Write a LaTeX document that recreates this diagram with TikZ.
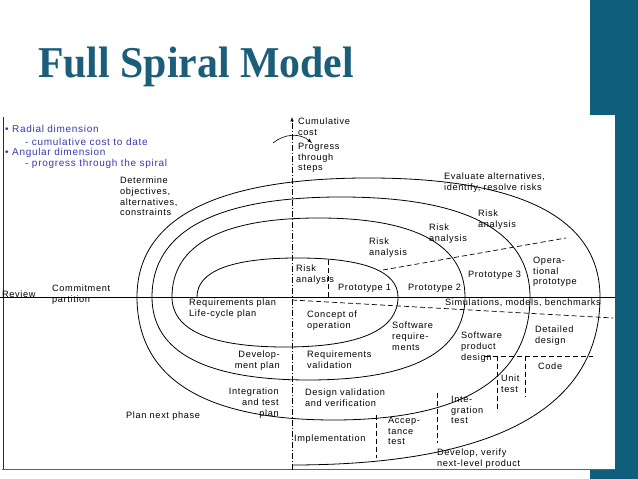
\documentclass[tikz,border=0pt]{standalone}
\usepackage{fontspec}
\setmainfont{Liberation Sans}
\newfontfamily\titlefont{Liberation Serif}
\newfontfamily\lblfont{Liberation Sans}[LetterSpace=7]
\definecolor{teal1}{HTML}{1A5E7A}
\definecolor{bar}{HTML}{0F5E7C}
\definecolor{bluet}{HTML}{3838B0}
\newcommand\spiralhalf[3]{%
  \draw[sp] (#1,182) .. controls (#1,{182+0.66*#3}) and ({(#1+#2)/2-0.66*(#2-#1)/2},{182+#3}) .. ({(#1+#2)/2},{182+#3})
    .. controls ({(#1+#2)/2+0.66*(#2-#1)/2},{182+#3}) and (#2,{182+0.66*#3}) .. (#2,182);}
\begin{document}
\begin{tikzpicture}[x=1pt,y=1pt,
  lbl/.style={font=\lblfont\fontsize{9.2}{10.6}\selectfont, inner sep=0pt, align=left, anchor=north west},
  lblr/.style={font=\lblfont\fontsize{9.2}{10.6}\selectfont, inner sep=0pt, align=right, anchor=north east},
  blue/.style={font=\lblfont\fontsize{10}{11}\selectfont, inner sep=0pt, anchor=west, text=bluet},
  sp/.style={line width=0.8pt},
  dsh/.style={line width=0.7pt, dash pattern=on 5pt off 3pt}]
\useasboundingbox (0,0) rectangle (638,479);
\fill[white] (0,0) rectangle (638,479);
\fill[bar] (590,0) rectangle (638,479);
\fill[white] (2,10) rectangle (615,364);
\draw[bluet!60!black, line width=0.8pt] (3,10) -- (3,362);
\draw[gray!70!blue, line width=0.6pt] (2,10) -- (615,10);
\node[inner sep=0pt, anchor=base west, text=teal1, font=\titlefont\bfseries\fontsize{44}{48}\selectfont, xscale=0.95] (title) at (38,401) {Full Spiral Model};
% axes
\coordinate (ax1) at (0,182); \coordinate (ax2) at (615,182);
\draw[line width=0.6pt] (ax1) -- (ax2);
\coordinate (vb) at (292,9); \coordinate (vt) at (292,362);
\draw[line width=0.5pt, dash pattern=on 6pt off 2pt on 1pt off 2pt, -latex] (vb) -- (vt);
\coordinate (ca) at (273,336); \coordinate (cb) at (312,336);
\draw[line width=0.6pt, -latex] (ca) to[bend left=40] (cb);
% spiral
\spiralhalf{197}{398}{39}
\spiralhalf{172}{465}{79}
\spiralhalf{152}{530}{100}
\spiralhalf{137}{600}{119}
\spiralhalf{172}{398}{-50}
\spiralhalf{152}{465}{-83}
\spiralhalf{137}{530}{-123}
\draw[sp] (600,182) .. controls (600,{182-0.66*168}) and ({292+0.66*308},14) .. (292,14);
% dashed lines
\coordinate (d1a) at (383,209); \coordinate (d1b) at (566,241);
\draw[dsh] (d1a) -- (d1b);
\coordinate (d2a) at (292,179); \coordinate (d2b) at (613,161);
\draw[dsh] (d2a) -- (d2b);
\coordinate (d3a) at (328,219); \coordinate (d3b) at (328,182);
\draw[dsh] (d3a) -- (d3b);
\coordinate (d4a) at (485,123); \coordinate (d4b) at (593,123);
\draw[dsh] (d4a) -- (d4b);
\coordinate (d5a) at (497,123); \coordinate (d5b) at (497,67);
\draw[dsh] (d5a) -- (d5b);
\coordinate (d6a) at (525,123); \coordinate (d6b) at (525,82);
\draw[dsh] (d6a) -- (d6b);
\coordinate (d7a) at (437,86); \coordinate (d7b) at (437,36);
\draw[dsh] (d7a) -- (d7b);
\coordinate (d8a) at (376,64); \coordinate (d8b) at (376,21);
\draw[dsh] (d8a) -- (d8b);
% blue notes
\node[blue] (b1) at (5,350) {\textbullet\ Radial dimension};
\node[blue] (b2) at (25,337) {- cumulative cost to date};
\node[blue] (b3) at (5,326) {\textbullet\ Angular dimension};
\node[blue] (b4) at (25,315) {- progress through the spiral};
% labels
\node[lbl] (t1) at (298,361) {Cumulative\\cost};
\node[lbl] (t2) at (298,336) {Progress\\through\\steps};
\node[lbl] (t3) at (120,302) {Determine\\objectives,\\alternatives,\\constraints};
\node[lbl] (t4) at (444,306) {Evaluate alternatives,\\identify, resolve risks};
\node[lbl] (t5) at (478,269) {Risk\\analysis};
\node[lbl] (t6) at (429,255) {Risk\\analysis};
\node[lbl] (t7) at (369,241) {Risk\\analysis};
\node[lbl] (t8) at (296,214) {Risk\\analysis};
\node[lbl] (t9) at (338,195) {Prototype 1};
\node[lbl] (t10) at (408,195) {Prototype 2};
\node[lbl] (t11) at (468,208) {Prototype 3};
\node[lbl] (t12) at (533,222) {Opera-\\tional\\prototype};
\node[lbl] (t13) at (2,188) {Review};
\node[lbl] (t14) at (52,194) {Commitment\\partition};
\node[lbl] (t15) at (189,180) {Requirements plan\\Life-cycle plan};
\node[lbl] (t16) at (307,168) {Concept of\\operation};
\node[lbl] (t17) at (445,180) {Simulations, models, benchmarks};
\node[lbl] (t18) at (392,157) {Software\\require-\\ments};
\node[lbl] (t19) at (461,147) {Software\\product\\design};
\node[lbl] (t20) at (535,153) {Detailed\\design};
\node[lblr] (t21) at (280,128) {Develop-\\ment plan};
\node[lbl] (t22) at (307,128) {Requirements\\validation};
\node[lbl] (t23) at (538,116) {Code};
\node[lbl] (t24) at (501,104) {Unit\\test};
\node[lblr] (t25) at (279,91) {Integration\\and test\\plan};
\node[lbl] (t26) at (305,90) {Design validation\\and verification};
\node[lbl] (t27) at (451,83) {Inte-\\gration\\test};
\node[lbl] (t28) at (126,67) {Plan next phase};
\node[lbl] (t29) at (388,62) {Accep-\\tance\\test};
\node[lbl] (t30) at (294,44) {Implementation};
\node[lbl] (t31) at (437,30) {Develop, verify\\next-level product};
\end{tikzpicture}
\end{document}
